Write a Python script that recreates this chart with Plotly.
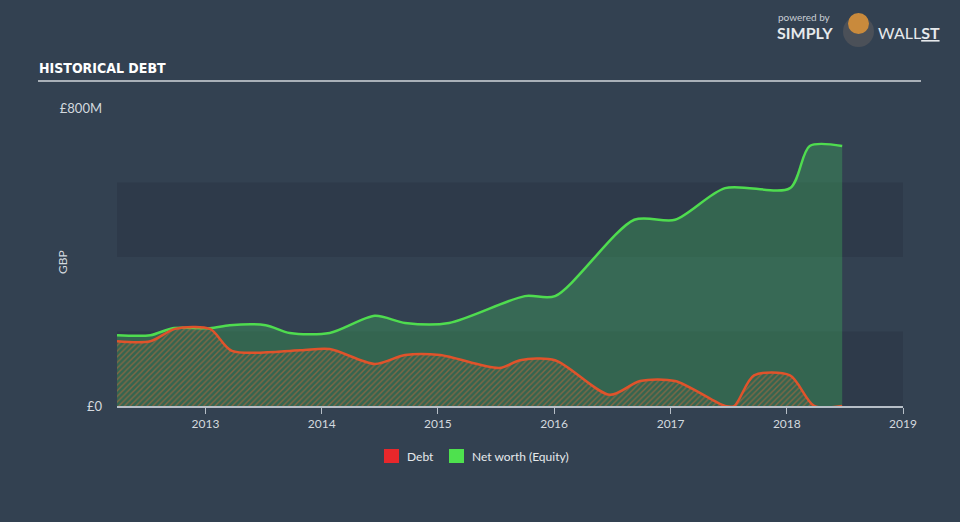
import plotly.graph_objects as go

# ---- data (GBP millions) ----
equity_dates = ["2012-03-29", "2012-07-12", "2012-09-20", "2013-01-15", "2013-03-18",
                "2013-07-09", "2013-09-23", "2014-01-26", "2014-06-17", "2014-09-20",
                "2015-02-05", "2015-10-01", "2016-01-04", "2016-09-09", "2017-01-15",
                "2017-06-21", "2018-01-11", "2018-03-14", "2018-06-24"]
equity_vals = [190, 190, 209, 209, 217, 217, 196, 196, 242, 223,
               223, 295, 295, 500, 500, 585, 585, 698, 698]

debt_dates = ["2012-03-29", "2012-07-12", "2012-09-27", "2013-01-15", "2013-03-25",
              "2013-10-26", "2014-01-26", "2014-06-17", "2014-09-20", "2015-01-08",
              "2015-07-13", "2015-09-16", "2016-01-04", "2016-06-24", "2016-09-27",
              "2017-01-15", "2017-06-21", "2017-07-20", "2017-09-20", "2018-01-11",
              "2018-03-28", "2018-06-24"]
debt_vals = [174, 174, 207, 207, 148, 150, 153, 113, 137, 137,
             102, 123, 123, 30, 67, 67, 0, 0, 82, 82, 0, 0]

y_ticks = [0, 800]
y_tick_labels = ["£0", "£800M"]
x_ticks = ["2013-01-01", "2014-01-01", "2015-01-01", "2016-01-01",
           "2017-01-01", "2018-01-01", "2019-01-01"]
x_tick_labels = ["2013", "2014", "2015", "2016", "2017", "2018", "2019"]
series_names = ["Debt", "Net worth (Equity)"]

BG = "#334151"
GREEN = "#4fdc4f"
RED = "#e0532b"
TXT = "#d4d9df"
FONT = "Lato, 'Open Sans', sans-serif"


def px(x):
    return (x - 117) / 786


def py(y):
    return (406 - y) / 298


fig = go.Figure()

fig.add_trace(go.Scatter(
    x=equity_dates, y=equity_vals, mode="lines",
    line=dict(color=GREEN, width=2.5, shape="spline", smoothing=0.8),
    fill="tozeroy", fillcolor="rgba(62,170,92,0.38)",
    showlegend=False, hoverinfo="skip"))

fig.add_trace(go.Scatter(
    x=debt_dates, y=debt_vals, mode="lines",
    line=dict(color=RED, width=2.5, shape="spline", smoothing=0.8),
    fill="tozeroy", fillcolor="rgba(0,0,0,0)",
    fillpattern=dict(shape="/", fgcolor="#d26a38", size=4, solidity=0.35),
    showlegend=False, hoverinfo="skip"))

shapes = [
    dict(type="rect", xref="paper", yref="y", x0=0, x1=1, y0=0, y1=200,
         fillcolor="#2e3a4a", line=dict(width=0), layer="below"),
    dict(type="rect", xref="paper", yref="y", x0=0, x1=1, y0=400, y1=600,
         fillcolor="#2e3a4a", line=dict(width=0), layer="below"),
    # title underline
    dict(type="line", xref="paper", yref="paper",
         x0=px(38), x1=px(921), y0=py(81), y1=py(81),
         line=dict(color="#a9b0b8", width=2)),
    # legend swatches
    dict(type="rect", xref="paper", yref="paper",
         x0=px(384), x1=px(399), y0=py(463), y1=py(449),
         fillcolor="#e8272b", line=dict(width=0)),
    dict(type="rect", xref="paper", yref="paper",
         x0=px(449), x1=px(464), y0=py(463), y1=py(449),
         fillcolor="#4ee14e", line=dict(width=0)),
    # logo mascot
    dict(type="circle", xref="paper", yref="paper",
         x0=px(843), x1=px(874), y0=py(47), y1=py(16),
         fillcolor="#4b5058", line=dict(width=0)),
    dict(type="circle", xref="paper", yref="paper",
         x0=px(848), x1=px(869), y0=py(34), y1=py(13),
         fillcolor="#c98a3c", line=dict(width=0)),
]

annotations = [
    dict(text="<b>HISTORICAL DEBT</b>", xref="paper", yref="paper",
         x=px(37), y=py(68), xanchor="left", yanchor="middle", showarrow=False,
         font=dict(family="'DejaVu Sans Condensed', 'Liberation Sans Narrow', sans-serif",
                   size=14, color="#ffffff")),
    dict(text="powered by", xref="paper", yref="paper",
         x=px(776), y=py(17), xanchor="left", yanchor="middle",
         showarrow=False, font=dict(family=FONT, size=10, color="#c8ced5")),
    dict(text="<b>SIMPLY</b>", xref="paper", yref="paper",
         x=px(775), y=py(33), xanchor="left", yanchor="middle",
         showarrow=False, font=dict(family=FONT, size=16, color="#e6e9ec")),
    dict(text="WALL<b><u>ST</u></b>", xref="paper", yref="paper",
         x=px(876), y=py(33), xanchor="left", yanchor="middle",
         showarrow=False, font=dict(family=FONT, size=16, color="#e6e9ec")),
    dict(text="GBP", xref="paper", yref="paper", textangle=-90,
         x=px(62), y=py(262), xanchor="center", yanchor="middle",
         showarrow=False, font=dict(family=FONT, size=12, color=TXT)),
    dict(text=series_names[0], xref="paper", yref="paper",
         x=px(405), y=py(456), xanchor="left", yanchor="middle",
         showarrow=False, font=dict(family=FONT, size=12, color="#e6e9ec")),
    dict(text=series_names[1], xref="paper", yref="paper",
         x=px(470), y=py(456), xanchor="left", yanchor="middle",
         showarrow=False, font=dict(family=FONT, size=12, color="#e6e9ec")),
]

fig.update_layout(
    width=960, height=522,
    margin=dict(l=117, r=57, t=108, b=116),
    paper_bgcolor=BG, plot_bgcolor=BG,
    font=dict(family=FONT, color=TXT, size=12),
    shapes=shapes, annotations=annotations,
    showlegend=False,
    xaxis=dict(type="date", range=["2012-03-29", "2019-01-01"],
               tickvals=x_ticks, ticktext=x_tick_labels,
               showgrid=False, zeroline=False,
               showline=True, linecolor="#b6bec7", linewidth=1.5,
               ticks="outside", ticklen=6, tickcolor="#b6bec7",
               tickfont=dict(family=FONT, size=12, color=TXT)),
    yaxis=dict(range=[0, 800], tickvals=y_ticks, ticktext=y_tick_labels,
               showgrid=False, zeroline=False, showline=False,
               ticks="", ticklabelstandoff=14,
               tickfont=dict(family=FONT, size=13, color=TXT)),
)

fig.write_html("out.html")
